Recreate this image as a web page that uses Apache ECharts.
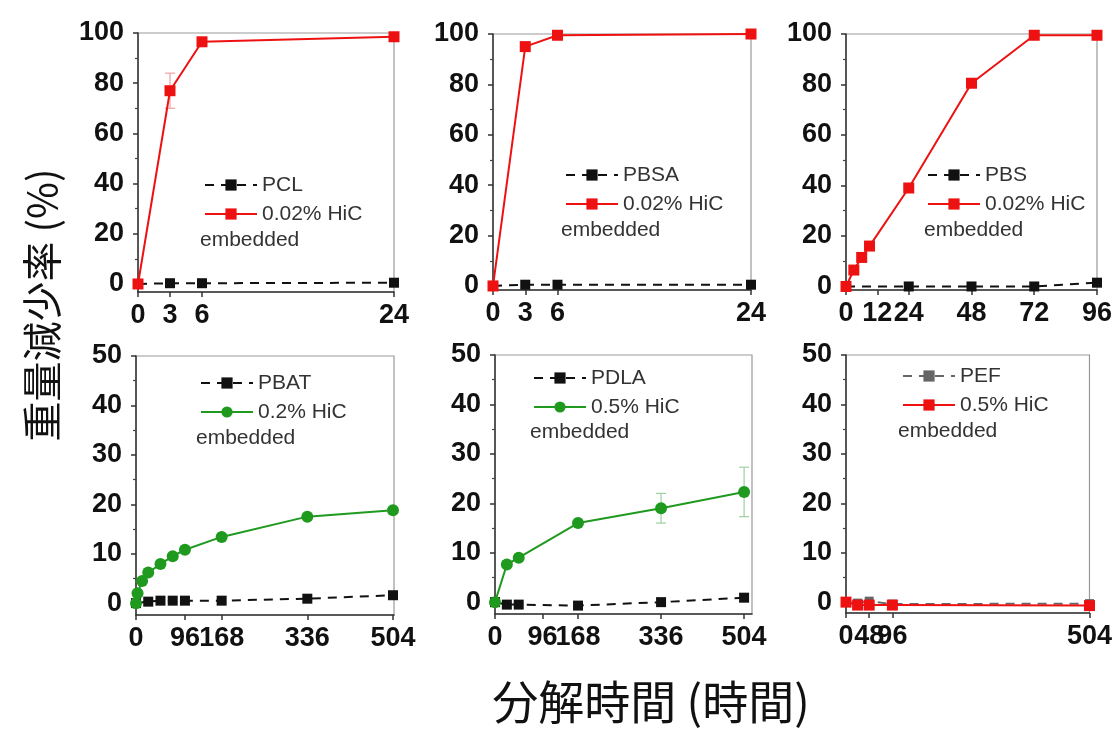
<!DOCTYPE html>
<html>
<head>
<meta charset="utf-8">
<script src="https://cdn.jsdelivr.net/npm/echarts@6/dist/echarts.min.js"></script>
<style>
html,body{margin:0;padding:0;background:#fff;}
#c{width:1115px;height:734px;}
</style>
</head>
<body>
<div id="c"></div>
<script>
// ---------------- data ----------------
const pclTime = [0, 3, 6, 24];
const pclCtrl = [0, 0.3, 0.3, 0.5];
const pclHic  = [0, 77, 96.5, 98.5];
const pclErr  = [[3, 70, 84]];

const pbsaTime = [0, 3, 6, 24];
const pbsaCtrl = [0, 0.5, 0.5, 0.5];
const pbsaHic  = [0, 95, 99.5, 100];

const pbsHicTime  = [0, 3, 6, 9, 24, 48, 72, 96];
const pbsHic      = [0, 6.5, 11.5, 16, 39, 80.5, 99.5, 99.5];
const pbsCtrlTime = [0, 24, 48, 72, 96];
const pbsCtrl     = [0, 0, 0, 0, 1.5];

const pbatHicTime  = [0, 3, 12, 24, 48, 72, 96, 168, 336, 504];
const pbatHic      = [0, 2, 4.5, 6.2, 7.9, 9.5, 10.8, 13.4, 17.5, 18.8];
const pbatCtrlTime = [0, 24, 48, 72, 96, 168, 336, 504];
const pbatCtrl     = [0, 0.3, 0.5, 0.5, 0.5, 0.5, 0.9, 1.6];

const pdlaTime = [0, 24, 48, 168, 336, 504];
const pdlaHic  = [0, 7.6, 9.0, 16.0, 19.0, 22.3];
const pdlaCtrl = [0, -0.5, -0.5, -0.7, 0, 0.9];
const pdlaErr  = [[336, 16, 22], [504, 17.3, 27.3]];

const pefTime = [0, 24, 48, 96, 504];
const pefHic  = [0, -0.6, -0.6, -0.6, -0.7];
const pefCtrl = [0, -0.2, 0.2, -0.4, -0.3];

const xTicksShort = [0, 3, 6, 24];
const xTicksPbs   = [0, 12, 24, 48, 72, 96];
const xTicksLong  = [0, 96, 168, 336, 504];
const xTicksPef   = [0, 48, 96, 504];
const yTicksTop   = [0, 20, 40, 60, 80, 100];
const yMinorTop   = [10, 30, 50, 70, 90];
const yTicksBot   = [0, 10, 20, 30, 40, 50];
const yMinorBot   = [5, 15, 25, 35, 45];

const ctrlNames = ['PCL', 'PBSA', 'PBS', 'PBAT', 'PDLA', 'PEF'];
const hicNames  = ['0.02% HiC', '0.02% HiC', '0.02% HiC', '0.2% HiC', '0.5% HiC', '0.5% HiC'];
const yTitle = '重量減少率 (%)';
const xTitle = '分解時間 (時間)';
const embeddedText = 'embedded';

// ---------------- layout / style ----------------
const RED = '#ee1111', GREEN = '#1f9a1f', BLACK = '#111', GRAY = '#666';
const FONT = 'Liberation Sans, Arial, sans-serif';
const grids = [
  {left: 138, top: 33, width: 256, height: 259},
  {left: 493, top: 34, width: 258, height: 256},
  {left: 846, top: 34, width: 254, height: 256},
  {left: 136, top: 356, width: 258, height: 259},
  {left: 495, top: 355, width: 257, height: 259},
  {left: 846, top: 355, width: 254, height: 258}
];
const xCfg = [
  {min: 0, max: 24, ticks: xTicksShort},
  {min: 0, max: 24, ticks: xTicksShort},
  {min: 0, max: 96, ticks: xTicksPbs},
  {min: 0, max: 506, ticks: xTicksLong},
  {min: 0, max: 520, ticks: xTicksLong},
  {min: 0, max: 504, ticks: xTicksPef}
];
const yCfg = [
  {min: -3.2, max: 100, ticks: yTicksTop, minor: yMinorTop},
  {min: -1.6, max: 100, ticks: yTicksTop, minor: yMinorTop},
  {min: -1.4, max: 100, ticks: yTicksTop, minor: yMinorTop},
  {min: -2.4, max: 50, ticks: yTicksBot, minor: yMinorBot},
  {min: -2.4, max: 50, ticks: yTicksBot, minor: yMinorBot},
  {min: -2.2, max: 50, ticks: yTicksBot, minor: yMinorBot}
];
const legendPos = [
  {left: 199, top: 168, emb: [200, 240]},
  {left: 560, top: 158, emb: [561, 230]},
  {left: 922, top: 158, emb: [924, 230]},
  {left: 195, top: 366, emb: [196, 438]},
  {left: 528, top: 361, emb: [530, 432]},
  {left: 897, top: 359, emb: [898, 431]}
];

const zip = (t, v) => t.map((x, i) => [x, v[i]]);
const SEP = '#';
const uid = (name, i) => name + SEP + i;

const xAxes = xCfg.map((c, i) => ({
  type: 'value', gridIndex: i, min: c.min, max: c.max,
  axisLine: {show: true, onZero: false, lineStyle: {color: '#333', width: 1.5}},
  axisTick: {show: true, customValues: c.ticks, length: 5, lineStyle: {color: '#333', width: 1.5}},
  axisLabel: {customValues: c.ticks, margin: 10, fontSize: 27, fontWeight: 'bold', fontFamily: FONT, color: '#111', hideOverlap: false},
  splitLine: {show: false}
}));

const yAxes = [];
yCfg.forEach((c, i) => {
  yAxes.push({
    type: 'value', gridIndex: i, min: c.min, max: c.max, position: 'left',
    axisLine: {show: true, onZero: false, lineStyle: {color: '#333', width: 1.5}},
    axisTick: {show: true, customValues: c.ticks, length: 5, lineStyle: {color: '#333', width: 1.5}},
    axisLabel: {customValues: c.ticks, margin: 14, fontSize: 27, fontWeight: 'bold', fontFamily: FONT, color: '#111'},
    splitLine: {show: false}
  });
});
yCfg.forEach((c, i) => {
  yAxes.push({
    type: 'value', gridIndex: i, min: c.min, max: c.max, position: 'left', offset: 0,
    axisLine: {show: false},
    axisTick: {show: true, customValues: c.minor, length: 3, lineStyle: {color: '#444', width: 1.2}},
    axisLabel: {show: false},
    splitLine: {show: false}
  });
});

function lineSeries(name, gi, data, color, dashed, symbol, size) {
  return {
    name: name, type: 'line', xAxisIndex: gi, yAxisIndex: gi, data: data,
    symbol: symbol, symbolSize: size, showSymbol: true,
    lineStyle: {color: color, width: 2, type: dashed ? [9, 7] : 'solid'},
    itemStyle: {color: color},
    emphasis: {disabled: true}, animation: false, z: dashed ? 3 : 4
  };
}
function errSeries(gi, data, color) {
  return {
    type: 'custom', xAxisIndex: gi, yAxisIndex: gi, data: data, animation: false, z: 2,
    renderItem: function (params, api) {
      const x = api.value(0), lo = api.value(1), hi = api.value(2);
      const p1 = api.coord([x, lo]), p2 = api.coord([x, hi]);
      const w = 5;
      return {
        type: 'group', children: [
          {type: 'line', shape: {x1: p1[0], y1: p1[1], x2: p2[0], y2: p2[1]}, style: {stroke: color, lineWidth: 1.2}},
          {type: 'line', shape: {x1: p1[0] - w, y1: p1[1], x2: p1[0] + w, y2: p1[1]}, style: {stroke: color, lineWidth: 1.2}},
          {type: 'line', shape: {x1: p2[0] - w, y1: p2[1], x2: p2[0] + w, y2: p2[1]}, style: {stroke: color, lineWidth: 1.2}}
        ]
      };
    }
  };
}

const series = [
  lineSeries(uid(ctrlNames[0], 0), 0, zip(pclTime, pclCtrl), BLACK, true, 'rect', 10),
  lineSeries(uid(hicNames[0], 0), 0, zip(pclTime, pclHic), RED, false, 'rect', 11),
  errSeries(0, pclErr, '#f2a0a0'),
  lineSeries(uid(ctrlNames[1], 1), 1, zip(pbsaTime, pbsaCtrl), BLACK, true, 'rect', 10),
  lineSeries(uid(hicNames[1], 1), 1, zip(pbsaTime, pbsaHic), RED, false, 'rect', 11),
  lineSeries(uid(ctrlNames[2], 2), 2, zip(pbsCtrlTime, pbsCtrl), BLACK, true, 'rect', 10),
  lineSeries(uid(hicNames[2], 2), 2, zip(pbsHicTime, pbsHic), RED, false, 'rect', 11),
  lineSeries(uid(ctrlNames[3], 3), 3, zip(pbatCtrlTime, pbatCtrl), BLACK, true, 'rect', 10),
  lineSeries(uid(hicNames[3], 3), 3, zip(pbatHicTime, pbatHic), GREEN, false, 'circle', 12),
  lineSeries(uid(ctrlNames[4], 4), 4, zip(pdlaTime, pdlaCtrl), BLACK, true, 'rect', 10),
  lineSeries(uid(hicNames[4], 4), 4, zip(pdlaTime, pdlaHic), GREEN, false, 'circle', 12),
  errSeries(4, pdlaErr, '#9fd09f'),
  lineSeries(uid(ctrlNames[5], 5), 5, zip(pefTime, pefCtrl), GRAY, true, 'rect', 9),
  lineSeries(uid(hicNames[5], 5), 5, zip(pefTime, pefHic), RED, false, 'rect', 11)
];

const legends = legendPos.map((p, i) => ({
  left: p.left, top: p.top, orient: 'vertical', itemGap: 5,
  itemWidth: 52, itemHeight: 14, selectedMode: false,
  data: [uid(ctrlNames[i], i), uid(hicNames[i], i)],
  formatter: name => name.split(SEP)[0],
  textStyle: {fontSize: 21, fontFamily: FONT, color: '#333', lineHeight: 24}
}));

const graphics = legendPos.map(p => ({
  type: 'text', x: p.emb[0], y: p.emb[1],
  style: {text: embeddedText, font: '21px ' + FONT, fill: '#333', verticalAlign: 'middle', align: 'left'}
}));
graphics.push({
  type: 'text', x: 42, y: 305, rotation: Math.PI / 2,
  style: {text: yTitle, font: '40px "Noto Sans CJK JP", sans-serif', fill: '#111', align: 'center', verticalAlign: 'middle'}
});
graphics.push({
  type: 'text', x: 651, y: 702,
  style: {text: xTitle, font: '46px "Noto Sans CJK JP", sans-serif', fill: '#111', align: 'center', verticalAlign: 'middle'}
});

const chart = echarts.init(document.getElementById('c'), null, {renderer: 'canvas'});
chart.setOption({
  backgroundColor: '#fff',
  animation: false,
  grid: grids.map(g => Object.assign({show: true, borderColor: '#999', borderWidth: 1.2, containLabel: false}, g)),
  xAxis: xAxes,
  yAxis: yAxes,
  legend: legends,
  graphic: graphics,
  series: series
});
</script>
</body>
</html>
